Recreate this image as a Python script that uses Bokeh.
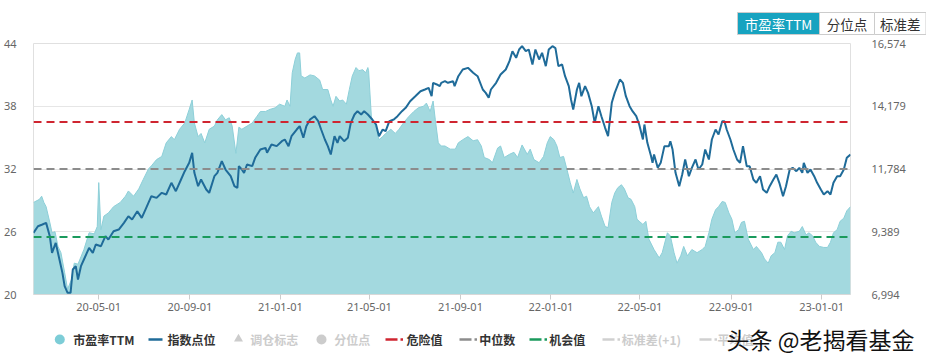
import pandas as pd
from bokeh.plotting import figure
from bokeh.models import (Range1d, LinearAxis, FixedTicker, NumeralTickFormatter,
                          DatetimeTickFormatter, Span)
from bokeh.layouts import column
from bokeh.embed import file_html
from bokeh.resources import INLINE
from bokeh.core.properties import value

# ---------------- data ----------------
pe_dates = [
    "2020-02-03", "2020-02-11", "2020-02-14", "2020-02-17", "2020-02-20", "2020-02-25", "2020-02-28", "2020-03-03", "2020-03-07", "2020-03-11",
    "2020-03-16", "2020-03-20", "2020-03-25", "2020-03-29", "2020-04-03", "2020-04-07", "2020-04-11", "2020-04-18", "2020-04-25", "2020-04-29",
    "2020-05-01", "2020-05-04", "2020-05-08", "2020-05-14", "2020-05-21", "2020-05-30", "2020-06-06", "2020-06-10", "2020-06-17", "2020-06-24",
    "2020-06-30", "2020-07-07", "2020-07-11", "2020-07-18", "2020-07-25", "2020-07-31", "2020-08-07", "2020-08-11", "2020-08-18", "2020-08-25",
    "2020-08-31", "2020-09-04", "2020-09-07", "2020-09-12", "2020-09-16", "2020-09-21", "2020-09-27", "2020-10-04", "2020-10-08", "2020-10-14",
    "2020-10-19", "2020-10-24", "2020-10-28", "2020-11-02", "2020-11-06", "2020-11-10", "2020-11-17", "2020-11-24", "2020-11-30", "2020-12-05",
    "2020-12-12", "2020-12-18", "2020-12-25", "2020-12-31", "2021-01-07", "2021-01-10", "2021-01-14", "2021-01-17", "2021-01-21", "2021-01-24",
    "2021-01-27", "2021-01-29", "2021-02-03", "2021-02-10", "2021-02-16", "2021-02-23", "2021-02-27", "2021-03-06", "2021-03-10", "2021-03-13",
    "2021-03-17", "2021-03-22", "2021-03-26", "2021-03-31", "2021-04-04", "2021-04-08", "2021-04-13", "2021-04-17", "2021-04-22", "2021-04-26",
    "2021-04-29", "2021-04-30", "2021-05-04", "2021-05-08", "2021-05-14", "2021-05-19", "2021-05-23", "2021-05-30", "2021-06-05", "2021-06-10",
    "2021-06-16", "2021-06-23", "2021-06-30", "2021-07-06", "2021-07-13", "2021-07-17", "2021-07-22", "2021-07-26", "2021-07-29", "2021-08-02",
    "2021-08-06", "2021-08-11", "2021-08-18", "2021-08-25", "2021-08-29", "2021-09-04", "2021-09-11", "2021-09-18", "2021-09-24", "2021-09-29",
    "2021-10-03", "2021-10-10", "2021-10-14", "2021-10-21", "2021-10-25", "2021-10-30", "2021-11-06", "2021-11-12", "2021-11-17", "2021-11-23",
    "2021-11-30", "2021-12-04", "2021-12-09", "2021-12-16", "2021-12-22", "2021-12-27", "2021-12-31", "2022-01-05", "2022-01-09", "2022-01-13",
    "2022-01-18", "2022-01-22", "2022-01-27", "2022-01-31", "2022-02-05", "2022-02-09", "2022-02-14", "2022-02-18", "2022-02-22", "2022-02-27",
    "2022-03-06", "2022-03-10", "2022-03-15", "2022-03-19", "2022-03-24", "2022-03-28", "2022-04-01", "2022-04-06", "2022-04-10", "2022-04-15",
    "2022-04-19", "2022-04-24", "2022-04-27", "2022-04-30", "2022-05-05", "2022-05-09", "2022-05-13", "2022-05-20", "2022-05-27", "2022-05-31",
    "2022-06-07", "2022-06-11", "2022-06-16", "2022-06-20", "2022-06-25", "2022-06-29", "2022-07-04", "2022-07-10", "2022-07-17", "2022-07-24",
    "2022-07-28", "2022-08-02", "2022-08-06", "2022-08-11", "2022-08-15", "2022-08-20", "2022-08-24", "2022-08-29", "2022-09-02", "2022-09-06",
    "2022-09-11", "2022-09-15", "2022-09-19", "2022-09-24", "2022-10-01", "2022-10-05", "2022-10-12", "2022-10-16", "2022-10-21", "2022-10-25",
    "2022-10-30", "2022-11-03", "2022-11-07", "2022-11-12", "2022-11-16", "2022-11-21", "2022-11-25", "2022-12-02", "2022-12-06", "2022-12-11",
    "2022-12-15", "2022-12-20", "2022-12-24", "2022-12-29", "2023-01-04", "2023-01-09", "2023-01-13", "2023-01-17", "2023-01-22", "2023-01-26",
    "2023-01-31", "2023-02-04", "2023-02-09",
]
pe_values = [
    28.8, 29.1, 29.4, 28.8, 28.4, 26.9, 25.9, 26.0, 24.6, 24.0,
    22.1, 20.5, 21.4, 23.0, 22.9, 23.6, 24.3, 25.9, 25.8, 26.5,
    30.7, 26.2, 27.5, 27.8, 28.4, 28.8, 29.4, 29.9, 29.4, 30.1,
    31.0, 32.0, 32.3, 32.9, 33.2, 34.5, 35.1, 34.8, 35.8, 36.4,
    37.7, 38.6, 36.4, 35.1, 35.4, 34.5, 35.8, 36.1, 36.7, 37.2,
    36.7, 36.9, 36.1, 33.5, 36.0, 35.8, 36.1, 36.4, 37.0, 37.5,
    37.5, 37.7, 37.85, 38.2, 38.0, 38.6, 38.0, 41.2, 42.5, 43.1,
    43.1, 40.9, 40.7, 41.0, 40.9, 40.5, 39.6, 39.6, 38.6, 38.0,
    38.95, 38.5, 38.6, 38.2, 39.6, 40.9, 41.7, 41.4, 41.5, 41.2,
    41.7, 41.4, 36.7, 36.4, 34.8, 35.1, 35.4, 35.8, 35.4, 35.8,
    36.4, 37.0, 37.5, 37.85, 38.0, 38.3, 37.5, 38.5, 36.7, 34.5,
    34.2, 34.2, 33.9, 33.9, 34.5, 34.8, 35.1, 34.7, 34.8, 34.2,
    33.1, 32.9, 32.6, 34.0, 34.2, 33.1, 33.4, 33.6, 33.1, 34.3,
    33.4, 33.9, 32.9, 32.6, 33.2, 34.5, 35.1, 34.8, 34.2, 33.1,
    33.2, 32.1, 30.7, 29.7, 31.0, 30.1, 29.25, 29.4, 28.4, 27.8,
    28.4, 27.5, 26.5, 26.4, 28.8, 29.7, 30.2, 30.5, 30.1, 29.25,
    29.1, 28.4, 27.2, 27.0, 26.7, 27.0, 25.3, 24.3, 23.5, 24.0,
    25.9, 25.6, 24.0, 23.0, 23.7, 24.6, 23.7, 24.3, 24.0, 24.3,
    24.6, 25.9, 27.2, 28.1, 28.4, 28.9, 28.8, 27.8, 27.2, 25.9,
    26.2, 26.9, 27.0, 25.3, 24.3, 24.6, 24.0, 23.4, 23.0, 23.7,
    24.0, 25.0, 25.0, 24.3, 25.6, 26.05, 25.9, 26.05, 26.5, 25.7,
    25.9, 25.6, 25.0, 24.6, 24.5, 24.5, 25.0, 25.9, 26.2, 27.0,
    27.3, 28.0, 28.4,
]

idx_dates = [
    "2020-02-03", "2020-02-09", "2020-02-15", "2020-02-20", "2020-02-25", "2020-02-28", "2020-03-04", "2020-03-09", "2020-03-13", "2020-03-16",
    "2020-03-20", "2020-03-24", "2020-03-27", "2020-03-31", "2020-04-03", "2020-04-07", "2020-04-11", "2020-04-18", "2020-04-23", "2020-04-27",
    "2020-05-04", "2020-05-10", "2020-05-14", "2020-05-21", "2020-05-28", "2020-06-04", "2020-06-10", "2020-06-15", "2020-06-22", "2020-06-28",
    "2020-07-03", "2020-07-11", "2020-07-18", "2020-07-25", "2020-07-31", "2020-08-07", "2020-08-13", "2020-08-20", "2020-08-25", "2020-08-31",
    "2020-09-04", "2020-09-07", "2020-09-12", "2020-09-16", "2020-09-23", "2020-09-27", "2020-10-04", "2020-10-08", "2020-10-14", "2020-10-19",
    "2020-10-26", "2020-10-31", "2020-11-04", "2020-11-06", "2020-11-10", "2020-11-13", "2020-11-17", "2020-11-24", "2020-11-28", "2020-12-05",
    "2020-12-12", "2020-12-14", "2020-12-20", "2020-12-27", "2021-01-03", "2021-01-07", "2021-01-12", "2021-01-16", "2021-01-23", "2021-01-27",
    "2021-02-01", "2021-02-05", "2021-02-10", "2021-02-16", "2021-02-21", "2021-02-25", "2021-03-02", "2021-03-06", "2021-03-10", "2021-03-15",
    "2021-03-19", "2021-03-22", "2021-03-28", "2021-04-02", "2021-04-06", "2021-04-11", "2021-04-15", "2021-04-20", "2021-04-24", "2021-04-29",
    "2021-05-05", "2021-05-10", "2021-05-14", "2021-05-19", "2021-05-23", "2021-05-28", "2021-06-03", "2021-06-08", "2021-06-14", "2021-06-19",
    "2021-06-25", "2021-07-02", "2021-07-09", "2021-07-15", "2021-07-20", "2021-07-24", "2021-07-26", "2021-07-31", "2021-08-04", "2021-08-06",
    "2021-08-11", "2021-08-15", "2021-08-22", "2021-08-24", "2021-08-29", "2021-09-04", "2021-09-11", "2021-09-18", "2021-09-24", "2021-10-01",
    "2021-10-05", "2021-10-09", "2021-10-12", "2021-10-19", "2021-10-25", "2021-11-01", "2021-11-06", "2021-11-10", "2021-11-15", "2021-11-19",
    "2021-11-23", "2021-11-28", "2021-12-02", "2021-12-07", "2021-12-11", "2021-12-16", "2021-12-20", "2021-12-25", "2021-12-29", "2022-01-03",
    "2022-01-07", "2022-01-11", "2022-01-16", "2022-01-20", "2022-01-25", "2022-01-28", "2022-01-31", "2022-02-05", "2022-02-08", "2022-02-11",
    "2022-02-16", "2022-02-20", "2022-02-25", "2022-03-01", "2022-03-06", "2022-03-10", "2022-03-15", "2022-03-19", "2022-03-24", "2022-03-28",
    "2022-04-04", "2022-04-08", "2022-04-12", "2022-04-17", "2022-04-21", "2022-04-26", "2022-04-30", "2022-05-05", "2022-05-07", "2022-05-11",
    "2022-05-16", "2022-05-18", "2022-05-20", "2022-05-25", "2022-05-29", "2022-06-03", "2022-06-09", "2022-06-11", "2022-06-14", "2022-06-18",
    "2022-06-23", "2022-06-27", "2022-07-01", "2022-07-06", "2022-07-10", "2022-07-15", "2022-07-19", "2022-07-24", "2022-07-28", "2022-08-02",
    "2022-08-06", "2022-08-11", "2022-08-15", "2022-08-20", "2022-08-23", "2022-08-26", "2022-08-31", "2022-09-04", "2022-09-09", "2022-09-13",
    "2022-09-17", "2022-09-22", "2022-09-26", "2022-10-01", "2022-10-05", "2022-10-10", "2022-10-14", "2022-10-19", "2022-10-23", "2022-10-28",
    "2022-11-01", "2022-11-05", "2022-11-10", "2022-11-14", "2022-11-19", "2022-11-23", "2022-11-28", "2022-12-02", "2022-12-06", "2022-12-08",
    "2022-12-13", "2022-12-17", "2022-12-22", "2022-12-26", "2022-12-31", "2023-01-04", "2023-01-09", "2023-01-13", "2023-01-17", "2023-01-22",
    "2023-01-26", "2023-01-31", "2023-02-04", "2023-02-09",
]
idx_values = [
    9347, 9601, 9665, 9728, 9219, 8583, 8965, 8329, 7820, 7311,
    7057, 7057, 7948, 8075, 7566, 8075, 8329, 8774, 8583, 8901,
    8838, 9219, 9092, 9410, 9474, 9728, 9983, 9856, 10174, 9919,
    10237, 10746, 10683, 10874, 10810, 11256, 10937, 11383, 11701, 12019,
    12401, 11637, 11129, 11383, 11001, 10874, 11510, 11637, 12083, 11764,
    11510, 11129, 11065, 11892, 11764, 11637, 11955, 11892, 12211, 12528,
    12592, 12401, 12719, 12656, 12846, 12910, 12656, 13037, 13291, 13419,
    12974, 13419, 13673, 13800, 13610, 13291, 12910, 12656, 12337, 13037,
    12783, 13037, 12846, 12974, 13546, 13864, 13991, 13864, 13991, 13864,
    13673, 13482, 13037, 13291, 13228, 13610, 13673, 13800, 13991, 14119,
    14372, 14562, 14753, 14817, 14881, 14562, 15074, 15010, 14944, 15074,
    15135, 15074, 15135, 14944, 15326, 15582, 15645, 15455, 15326, 14818,
    14690, 14501, 14818, 15074, 15391, 15582, 15900, 16280, 16027, 16345,
    16471, 16280, 16345, 15773, 16345, 15964, 16218, 15708, 16345, 16471,
    16400, 15708, 15773, 15326, 14944, 14436, 14055, 14818, 15074, 14562,
    14944, 14690, 14181, 13546, 14181, 13800, 13356, 13036, 14310, 14690,
    15200, 15074, 14562, 14181, 13991, 13800, 13482, 12910, 13482, 12783,
    12274, 12019, 12337, 11828, 12019, 12656, 12656, 12846, 12528, 11637,
    11129, 11573, 12146, 11510, 11828, 12146, 11764, 11955, 12528, 12146,
    12910, 13291, 13101, 13610, 13610, 13291, 12910, 12528, 12146, 12019,
    12656, 11892, 11892, 11383, 11256, 11510, 11001, 10874, 11129, 11383,
    11573, 11256, 10746, 11129, 11764, 11828, 11700, 11828, 11637, 12019,
    11637, 11764, 11510, 11256, 11001, 10810, 10937, 10810, 11256, 11510,
    11510, 11764, 12210, 12337,
]

danger_value = 36.5
median_value = 32.0
chance_value = 25.5

left_ticks = [20, 26, 32, 38, 44]
right_ticks = [6994, 9389, 11784, 14179, 16574]
x_tick_dates = ["2020-05-01", "2020-09-01", "2021-01-01", "2021-05-01", "2021-09-01",
                "2022-01-01", "2022-05-01", "2022-09-01", "2023-01-01"]
x_start, x_end = "2020-02-03", "2023-02-09"

button_labels = ["市盈率TTM", "分位点", "标准差"]
legend_labels = ["市盈率TTM", "指数点位", "调仓标志", "分位点", "危险值", "中位数", "机会值", "标准差(+1)", "平均值"]
watermark = "头条 @老揭看基金"

assert len(pe_dates) == len(pe_values)
assert len(idx_dates) == len(idx_values)

# ---------------- styles ----------------
W = 926
AREA = "#a3d9df"
AREA_EDGE = "#8dcfd8"
IDX = "#1f6b99"
RED = "#cf2530"
GREY = "#8c8c8c"
GREEN = "#1a9a5c"
LIGHT = "#cccccc"
NUMFONT = "Noto Sans"
CJK = "Noto Sans CJK SC"

pe_x = pd.to_datetime(pe_dates)
idx_x = pd.to_datetime(idx_dates)

# ---------------- top buttons ----------------
TOP_H = 37
top = figure(width=W, height=TOP_H, x_range=Range1d(0, W), y_range=Range1d(TOP_H, 0),
             output_backend="svg", toolbar_location=None, min_border=0,
             x_axis_location=None, y_axis_location=None, frame_align=False)
top.outline_line_color = None
top.xgrid.visible = False
top.ygrid.visible = False
btn_left = [737, 819, 874]
btn_right = [819, 874, 925.5]
btn_fill = ["#17a3c0", "white", "white"]
btn_text_color = ["white", "#333333", "#333333"]
top.quad(left=btn_left, right=btn_right, top=[12] * 3, bottom=[34] * 3,
         fill_color=btn_fill, line_color="#cccccc", line_width=1)
top.text(x=[(a + b) / 2 for a, b in zip(btn_left, btn_right)], y=[23.5] * 3, text=button_labels,
         text_align="center", text_baseline="middle", text_font=value(CJK),
         text_font_size="13.5px", text_color=btn_text_color)

# ---------------- main chart ----------------
p = figure(width=W, height=280, x_axis_type="datetime", output_backend="svg", toolbar_location=None,
           x_range=Range1d(pd.Timestamp(x_start), pd.Timestamp(x_end)), y_range=Range1d(20, 44),
           min_border_left=24, min_border_right=76, min_border_top=6, min_border_bottom=23,
           frame_align=False)
p.outline_line_color = "#e0e0e0"
p.background_fill_color = "white"
p.border_fill_color = "white"

p.varea(x=pe_x, y1=20, y2=pe_values, fill_color=AREA, fill_alpha=1)
p.line(x=pe_x, y=pe_values, line_color=AREA_EDGE, line_width=1)

p.extra_y_ranges = {"idx": Range1d(6994, 16574)}
p.line(x=idx_x, y=idx_values, y_range_name="idx", line_color=IDX, line_width=2)

for loc, col in [(danger_value, RED), (median_value, GREY), (chance_value, GREEN)]:
    p.add_layout(Span(location=loc, dimension="width", line_color=col, line_dash="8 5", line_width=2))

# axes
p.yaxis.ticker = FixedTicker(ticks=left_ticks)
p.ygrid.ticker = FixedTicker(ticks=left_ticks)
p.ygrid.grid_line_color = "#e6e6e6"
p.xgrid.visible = False

ra = LinearAxis(y_range_name="idx", ticker=FixedTicker(ticks=right_ticks),
                formatter=NumeralTickFormatter(format="0,0"))
p.add_layout(ra, "right")

for ax in [p.yaxis[0], ra]:
    ax.axis_line_color = None
    ax.major_tick_line_color = None
    ax.minor_tick_line_color = None
    ax.major_label_text_color = "#666666"
    ax.major_label_text_font = NUMFONT
    ax.major_label_text_font_size = "11px"
p.yaxis[0].major_label_standoff = 11
ra.major_label_standoff = 15

tick_ms = [pd.Timestamp(d).value / 1e6 for d in x_tick_dates]
xa = p.xaxis[0]
xa.ticker = FixedTicker(ticks=tick_ms, minor_ticks=[])
fmt = "%y-%m-%d"
xa.formatter = DatetimeTickFormatter(years=fmt, months=fmt, days=fmt, hours=fmt, hourmin=fmt,
                                     minutes=fmt, minsec=fmt, seconds=fmt, milliseconds=fmt,
                                     microseconds=fmt)
xa.axis_line_color = "#d8d8d8"
xa.major_tick_line_color = "#cccccc"
xa.major_tick_out = 5
xa.major_tick_in = 0
xa.minor_tick_line_color = None
xa.major_label_standoff = 3
xa.major_label_text_color = "#666666"
xa.major_label_text_font = NUMFONT
xa.major_label_text_font_size = "11px"

# ---------------- legend strip ----------------
LG_H = 40
lg = figure(width=W, height=LG_H, x_range=Range1d(0, W), y_range=Range1d(LG_H, 0),
            output_backend="svg", toolbar_location=None, min_border=0,
            x_axis_location=None, y_axis_location=None, frame_align=False)
lg.outline_line_color = None
lg.xgrid.visible = False
lg.ygrid.visible = False
CY = 22
lg.scatter(x=[59.3], y=[CY], size=10, marker="circle", fill_color="#7dcdd7", line_color=None)
lg.segment(x0=[148], y0=[CY], x1=[162], y1=[CY], line_color=IDX, line_width=2.5)
lg.scatter(x=[238], y=[CY - 0.5], size=9, marker="triangle", fill_color=LIGHT, line_color=None)
lg.scatter(x=[321], y=[CY], size=10, marker="circle", fill_color=LIGHT, line_color=None)
dash_x0 = [385, 459, 529, 602, 699]
dash_cols = [RED, GREY, GREEN, "#d0d0d0", "#d0d0d0"]
lg.segment(x0=dash_x0, y0=[CY] * 5, x1=[x + 12 for x in dash_x0], y1=[CY] * 5,
           line_color=dash_cols, line_width=2.5)
lg.segment(x0=[x + 15 for x in dash_x0], y0=[CY] * 5, x1=[x + 17.5 for x in dash_x0], y1=[CY] * 5,
           line_color=dash_cols, line_width=2.5)
label_x = [72.7, 167, 249.7, 333.7, 406, 478.7, 548.7, 621.3, 717]
label_col = ["#333333", "#333333", LIGHT, LIGHT, "#333333", "#333333", "#333333", LIGHT, LIGHT]
lg.text(x=label_x, y=[CY] * len(legend_labels), text=legend_labels, text_align="left",
        text_baseline="middle", text_font=value(CJK), text_font_style="bold",
        text_font_size="12px", text_color=label_col)
lg.text(x=[726], y=[21], text=[watermark], text_align="left", text_baseline="middle",
        text_font=value(CJK), text_font_size="23px", text_color="#111111")

layout = column(top, p, lg)
open("out.html", "w").write(file_html(layout, INLINE))
